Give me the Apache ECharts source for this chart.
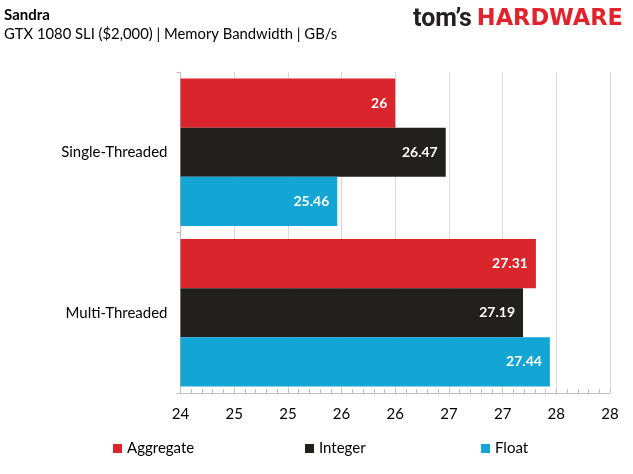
<!DOCTYPE html>
<html>
<head>
<meta charset="utf-8">
<script src="https://cdn.jsdelivr.net/npm/echarts@6/dist/echarts.min.js"></script>
<style>html,body{margin:0;padding:0;background:#fff}#c{width:633px;height:474px}</style>
</head>
<body>
<div id="c"></div>
<script>
var categories = ["Single-Threaded", "Multi-Threaded"];
var aggregate = [26, 27.31];
var integer = [26.47, 27.19];
var floatVals = [25.46, 27.44];
var tickLabels = ["24", "25", "25", "26", "26", "27", "27", "28", "28"];
var seriesNames = ["Aggregate", "Integer", "Float"];
var colors = ["#D9252B", "#221F1F", "#13A5D3"];

var FONT = "Lato";
var chart = echarts.init(document.getElementById('c'));
function legendAt(name, left) {
  return {
    data: [name], left: left, top: 441, padding: 0, itemWidth: 9, itemHeight: 9, itemGap: 0,
    icon: 'rect', textStyle: { fontFamily: FONT, fontSize: 15, color: '#000' }
  };
}
function mk(i, vals) {
  return {
    name: seriesNames[i], type: 'bar', data: vals, barGap: '0%', barCategoryGap: '8%',
    itemStyle: { color: colors[i] },
    label: { show: true, position: 'insideRight', distance: 8, color: '#fff', fontWeight: 'bold', fontFamily: FONT, fontSize: 14 }
  };
}
chart.setOption({
  animation: false,
  textStyle: { fontFamily: FONT },
  grid: { left: 180.5, right: 23, top: 72, bottom: 81, containLabel: false },
  title: [
    { text: 'Sandra', left: 4, top: 8, padding: 0, textStyle: { fontFamily: FONT, fontSize: 15, fontWeight: 'bold', color: '#000' } },
    { text: 'GTX 1080 SLI ($2,000) | Memory Bandwidth | GB/s', left: 4, top: 27, padding: 0, textStyle: { fontFamily: FONT, fontSize: 14.8, fontWeight: 'normal', color: '#000' } }
  ],
  graphic: [{
    type: 'text', left: 413, top: 7,
    style: {
      text: '{a|tom’s}{b|HARDWARE}',
      rich: {
        a: { fontFamily: 'Roboto', fontWeight: 'bold', fontSize: 25, fill: '#231F20' },
        b: { fontFamily: 'DejaVu Sans', fontWeight: 'bold', fontSize: 22.5, fill: '#E1232B', padding: [0,0,0,5] }
      }
    }
  }],
  legend: [legendAt('Aggregate', 113), legendAt('Integer', 305), legendAt('Float', 481)],
  xAxis: {
    type: 'value', min: 24, max: 28, interval: 0.5,
    axisLine: { show: true, lineStyle: { color: '#BFBFBF' } },
    axisTick: { show: true, inside: true, length: 4, lineStyle: { color: '#BFBFBF' } },
    minorTick: { show: true, splitNumber: 5, length: 4, lineStyle: { color: '#BFBFBF' } },
    splitLine: { show: true, lineStyle: { color: '#D9D9D9' } },
    axisLabel: { margin: 14, fontFamily: FONT, fontSize: 15, color: '#000',
      formatter: function (v) { return tickLabels[Math.round((v - 24) / 0.5)]; } }
  },
  yAxis: {
    type: 'category', data: categories, inverse: true,
    axisLine: { show: true, lineStyle: { color: '#BFBFBF' } },
    axisTick: { show: true, length: 4, lineStyle: { color: '#BFBFBF' } },
    axisLabel: { margin: 13, fontFamily: FONT, fontSize: 15, color: '#000' }
  },
  series: [mk(0, aggregate), mk(1, integer), mk(2, floatVals)]
});
</script>
</body>
</html>
